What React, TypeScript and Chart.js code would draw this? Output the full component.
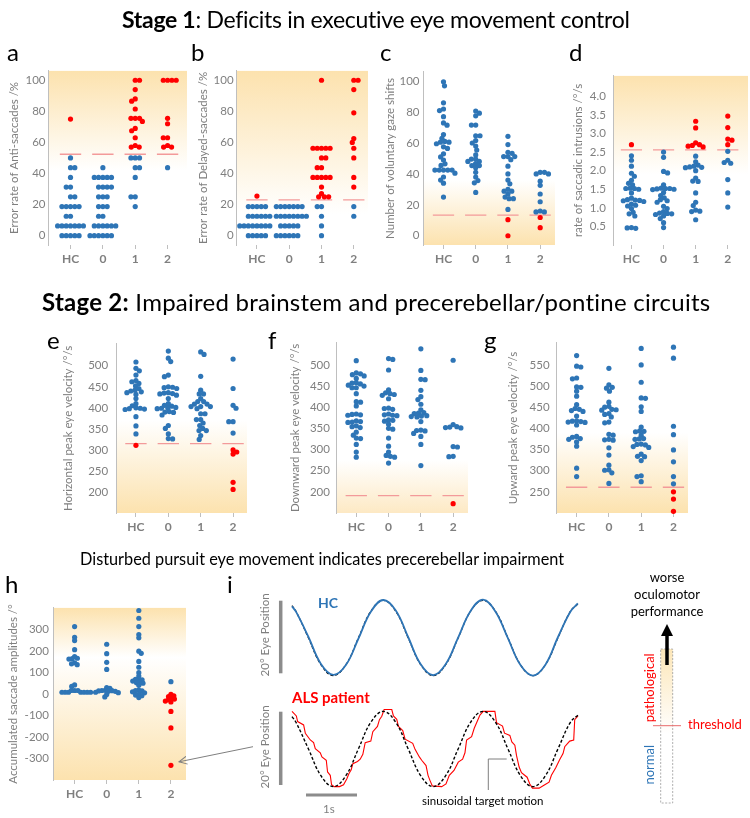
import React, { useEffect, useRef } from 'react';
import { Chart, registerables } from 'chart.js';
Chart.register(...registerables);

const FONT = "Lato, 'Open Sans', 'DejaVu Sans', sans-serif";
Chart.defaults.font.family = FONT;

// ---------- categories ----------
const groups = ['HC', '0', '1', '2'];

// ---------- a: anti-saccade error rate (%) ----------
const antiBlue = [
  [50, 43.75, 43.75, 37.5, 31.25, 31.25, 25, 25, 18.75, 18.75, 18.75, 18.75, 18.75, 12.5, 12.5, 6.25, 6.25, 6.25, 6.25, 6.25, 6.25, 6.25, 0, 0, 0, 0, 0],
  [43.75, 37.5, 37.5, 37.5, 37.5, 37.5, 31.25, 31.25, 31.25, 31.25, 25, 25, 25, 18.75, 18.75, 18.75, 12.5, 12.5, 6.25, 6.25, 6.25, 6.25, 6.25, 6.25, 0, 0, 0, 0, 0, 0],
  [50, 50, 50, 43.75, 43.75, 37.5, 25, 25, 18.75],
  [43.75],
];
const antiRed = [
  [75],
  [],
  [100, 100, 94, 88, 86.5, 81.5, 75.5, 75.5, 75.5, 73.5, 69, 67.5, 63, 58, 57, 57],
  [100, 100, 100, 100, 75.5, 72, 63, 63, 58, 57, 57],
];
const antiThreshold = 52.4;

// ---------- b: delayed-saccade error rate (%) ----------
const delayBlue = [
  [18.75, 18.75, 18.75, 18.75, 18.75, 12.5, 12.5, 12.5, 12.5, 12.5, 12.5, 6.25, 6.25, 6.25, 6.25, 6.25, 6.25, 6.25, 6.25, 0, 0, 0, 0, 0],
  [18.75, 18.75, 18.75, 18.75, 18.75, 18.75, 18.75, 12.5, 12.5, 12.5, 12.5, 12.5, 12.5, 12.5, 12.5, 6.25, 6.25, 6.25, 6.25, 6.25, 0, 0, 0, 0, 0, 0],
  [18.75, 18.75, 12.5, 6.25, 0],
  [18.75, 12.5],
];
const delayRed = [
  [25.5],
  [],
  [100, 56.25, 56.25, 56.25, 56.25, 56.25, 50, 50, 43.75, 43.75, 37.5, 37.5, 37.5, 37.5, 37.5, 31.25, 27, 25, 25, 25],
  [100, 100, 94, 79, 62.5, 60, 56.25, 50, 37.5, 31.25],
];
const delayThreshold = 23;

// ---------- c: number of voluntary gaze shifts ----------
const gazeBlue = [
  [99.6, 97, 86, 82, 81, 77, 73, 71.5, 65.5, 63, 61, 60.5, 60.5, 59.5, 57.5, 56.5, 53, 51, 49, 46.5, 45.5, 42.5, 42.5, 42.5, 42.5, 42.5, 40.5, 38, 36, 34, 25],
  [80.7, 79.3, 77.6, 71.6, 71.6, 64.7, 64.7, 61.6, 60, 58, 55.4, 52.3, 49.6, 49.6, 48.1, 48.1, 46.7, 45.4, 45.4, 44, 41, 38, 35.7, 34.2, 28],
  [64.3, 59, 54, 53.3, 51.2, 51.2, 51.2, 49.2, 45, 40, 36, 33.6, 30, 28.8, 28.8, 27, 25, 24, 24, 17],
  [41, 41, 40, 40, 35.3, 32.6, 27, 22, 16, 15.4, 15.4],
];
const gazeRed = [[], [], [10.4, 0], [11.8, 5.2]];
const gazeThreshold = 13.3;

// ---------- d: rate of saccadic intrusions (°/s) ----------
const intrBlue = [
  [2.4, 2.28, 2.12, 1.93, 1.85, 1.74, 1.66, 1.62, 1.53, 1.52, 1.52, 1.5, 1.4, 1.26, 1.22, 1.21, 1.2, 1.19, 1.17, 1.1, 1.07, 1.05, 0.98, 0.88, 0.84, 0.78, 0.47, 0.46, 0.45],
  [2.5, 2.36, 1.98, 1.94, 1.62, 1.53, 1.52, 1.52, 1.51, 1.5, 1.49, 1.41, 1.33, 1.27, 1.22, 1.19, 1.15, 1.04, 0.98, 0.9, 0.86, 0.85, 0.84, 0.82, 0.78, 0.71, 0.6, 0.47],
  [2.39, 2.24, 2.15, 2.12, 2.1, 2.09, 2.08, 2.0, 1.8, 1.72, 1.71, 1.4, 1.15, 1.06, 0.94, 0.91, 0.9, 0.68],
  [2.52, 2.28, 2.22, 2.2, 1.76, 1.4, 1.02],
];
const intrRed = [
  [2.7],
  [],
  [3.33, 3.15, 2.75, 2.7, 2.68, 2.66, 2.64],
  [3.47, 3.16, 2.85, 2.82, 2.7],
];
const intrThreshold = 2.56;

// ---------- e: horizontal peak eye velocity (°/s) ----------
const horBlue = [
  [509, 494, 488, 478, 465, 462, 458, 452, 446, 442, 440, 438, 436, 432, 422, 410, 405, 400, 399, 398, 397, 396, 379, 357, 338],
  [535, 518, 510, 478, 474, 450, 449, 448, 446, 436, 435, 434, 433, 430, 422, 410, 406, 404, 401, 400, 399, 398, 391, 390, 389, 383, 358, 351, 338, 327, 326],
  [533, 527, 475, 442, 433, 433, 422, 415, 415, 409, 409, 403, 403, 403, 398, 386, 386, 372, 372, 364, 358, 351, 346, 346, 334, 325],
  [516, 446, 406, 399, 367, 367, 340],
];
const horRed = [[311], [], [], [300, 295, 290, 223, 206]];
const horThreshold = 315;

// ---------- f: downward peak eye velocity (°/s) ----------
const downBlue = [
  [510, 481, 479, 477, 474, 468, 458, 457, 455, 452, 450, 446, 446, 432, 413, 412, 403, 384, 383, 382, 381, 368, 366, 365, 364, 356, 354, 352, 341, 334, 327, 326, 312, 294, 282],
  [515, 513, 488, 441, 434, 432, 430, 428, 420, 398, 397, 395, 384, 382, 381, 380, 370, 369, 367, 360, 350, 348, 327, 308, 294, 286, 284, 282, 268],
  [538, 487, 466, 465, 440, 425, 418, 407, 394, 387, 386, 385, 380, 379, 378, 377, 366, 346, 345, 344, 338, 331, 312, 262],
  [511, 359, 354, 353, 352, 351, 307, 306, 284, 283],
];
const downRed = [[], [], [], [172]];
const downThreshold = 191;

// ---------- g: upward peak eye velocity (°/s) ----------
const upBlue = [
  [572, 547, 545, 519, 517, 498, 497, 488, 476, 456, 447, 445, 442, 440, 429, 418, 417, 416, 415, 414, 408, 381, 379, 376, 374, 368, 358, 306, 286],
  [542, 503, 497, 495, 488, 462, 452, 450, 445, 444, 443, 435, 433, 427, 415, 413, 386, 384, 374, 373, 372, 354, 337, 313, 302, 301, 295, 270],
  [589, 550, 509, 472, 471, 451, 440, 403, 394, 393, 392, 384, 376, 375, 374, 363, 362, 361, 357, 355, 339, 334, 333, 324, 288, 286, 274],
  [592, 566, 405, 385, 349, 321, 286, 269],
];
const upRed = [[], [], [], [250, 233, 204]];
const upThreshold = 261;

// ---------- h: accumulated saccade amplitudes (°) ----------
const accBlue = [
  [313, 263, 248, 206, 174, 166, 164, 162, 145, 140, 136, 42, 35, 16, 16, 16, 8, 8, 8, 8, 8, 8, 8],
  [231, 187, 147, 114, 30, 26, 17, 16, 15, 14, 13, 12, 8, 6, -2, -14],
  [388, 352, 313, 276, 261, 199, 189, 151, 124, 99, 83, 68, 68, 66, 60, 54, 52, 50, 40, 18, 16, 14, 10, 5, -2, -5, -8, -17],
  [57],
];
const accRed = [[], [], [], [-2, -9, -12, -20, -24, -27, -33, -37, -81, -158, -332]];

// ---------- i: pursuit traces (time s, position °) ----------
const targetT = [0, 0.08, 0.33, 0.58, 0.83, 1.08, 1.33, 1.58, 1.83, 2.08, 2.33, 2.58, 2.83, 3.08, 3.33, 3.58, 3.83, 4.08, 4.33, 4.58, 4.83, 5.08, 5.33, 5.58, 5.73];
const targetPos = [8.6, 7.1, 0, -7.1, -10, -7.1, 0, 7.1, 10, 7.1, 0, -7.1, -10, -7.1, 0, 7.1, 10, 7.1, 0, -7.1, -10, -7.1, 0, 7.1, 9.0];
const hcEyeT = [0, 0.08, 0.33, 0.58, 0.83, 1.08, 1.33, 1.58, 1.83, 2.08, 2.33, 2.58, 2.83, 3.08, 3.33, 3.58, 3.83, 4.08, 4.33, 4.58, 4.83, 5.08, 5.33, 5.58, 5.73];
const hcEyePos = [8.4, 7.0, 0.3, -6.9, -9.8, -7.2, -0.2, 7.0, 10.1, 7.3, 0.2, -7.0, -9.9, -7.0, 0.1, 7.2, 10.2, 7.0, -0.1, -7.2, -10.0, -7.1, 0.2, 7.0, 9.2];
const alsEyeT = [0, 0.087, 0.113, 0.233, 0.267, 0.367, 0.433, 0.467, 0.567, 0.6, 0.687, 0.713, 0.767, 0.793, 0.847, 0.953, 1.033, 1.1, 1.14, 1.187, 1.22, 1.313, 1.367, 1.42, 1.467, 1.58, 1.62, 1.713, 1.753, 1.8, 1.847, 2.0, 2.033, 2.1, 2.133, 2.22, 2.267, 2.42, 2.467, 2.553, 2.6, 2.687, 2.727, 2.767, 2.813, 3.0, 3.087, 3.153, 3.247, 3.333, 3.42, 3.467, 3.5, 3.6, 3.653, 3.72, 3.767, 3.833, 4.067, 4.1, 4.22, 4.26, 4.367, 4.407, 4.467, 4.5, 4.553, 4.6, 4.713, 4.767, 4.82, 4.953, 5.067, 5.153, 5.2, 5.287, 5.367, 5.433, 5.467, 5.567, 5.647, 5.667, 5.733];
const alsEyePos = [10, 8.8, 7.3, 6.4, 4.2, 2.4, 1.7, 0.1, -1.0, -2.1, -3.0, -6.1, -7.0, -9.5, -10, -10, -9.5, -7.9, -6.6, -5.5, -3.9, -3.3, -2.7, -1.4, 1.7, 2.1, 4.6, 6.0, 7.8, 8.7, 10.5, 10.5, 8.8, 7.9, 6.0, 4.9, 2.6, 1.5, -0.1, -2.1, -3.0, -4.4, -7.0, -8.4, -9.8, -10, -9.3, -7.0, -5.7, -3.5, -2.7, -1.0, 2.4, 3.3, 5.5, 7.6, 9.0, 10, 10, 7.0, 6.1, 4.2, 3.6, 1.9, 1.0, -1.7, -4.8, -6.3, -7.5, -9.3, -10.4, -10.4, -9.5, -8.8, -7.0, -5.0, -2.8, -1.2, 0.6, 2.1, 2.4, 7.8, 8.8];

// ---------- styles ----------
const BLUE = '#2E75B6';
const RED = '#FF0000';
const THR = '#F39A9A';
const AXIS = '#BFBFBF';
const GRAY = '#7F7F7F';
const Y1 = '#FCE2AE';
const WHITE = '#FFFFFF';
const TITLE_HALF = 7.2;
const PAD_T = 4;
const PAD_R = 5;
const XH = 30;
const DOT_D = 4.3;

function swarmOffsets(vals: number[], pxPerUnit: number, d: number): number[] {
  const order = vals.map((_, i) => i).sort((a, b) => vals[b] - vals[a] || a - b);
  const placed: { x: number; y: number }[] = [];
  const res = new Array(vals.length).fill(0);
  let flip = 1;
  for (const i of order) {
    const y = vals[i] * pxPerUnit;
    const forb: [number, number][] = [];
    for (const p of placed) {
      const dy = Math.abs(p.y - y);
      if (dy < d) {
        const dx = Math.sqrt(d * d - dy * dy);
        forb.push([p.x - dx, p.x + dx]);
      }
    }
    const cands = [0];
    forb.forEach(([a, b]) => cands.push(a, b));
    const ok = (x: number) => forb.every(([a, b]) => x <= a + 1e-6 || x >= b - 1e-6);
    let best = Infinity;
    for (const c of cands) {
      if (!ok(c)) continue;
      const ac = Math.abs(c), ab = Math.abs(best);
      if (ac < ab - 1e-6 || (Math.abs(ac - ab) < 1e-6 && Math.sign(c) === flip)) best = c;
    }
    if (best !== 0) flip = -flip;
    placed.push({ x: best, y });
    res[i] = best;
  }
  return res;
}

type PanelCfg = {
  blue: number[][];
  red: number[][];
  threshold?: number;
  yMin: number; yMax: number; yTicks: number[]; decimals?: number;
  xMin: number; xMax: number;
  L: number; R: number; T: number; B: number;
  titleX: number; title: string; tickPad: number;
  grad: [number, string][];
  dotD?: number;
};

const bgPlugin = (stops: [number, string][]) => ({
  id: 'bgGrad',
  beforeDraw(chart: any) {
    const { ctx, chartArea: a, scales } = chart;
    const y = scales.y;
    const p0 = y.getPixelForValue(stops[0][0]);
    const p1 = y.getPixelForValue(stops[stops.length - 1][0]);
    const g = ctx.createLinearGradient(0, p0, 0, p1);
    stops.forEach(([v, c]) => {
      const f = (y.getPixelForValue(v) - p0) / (p1 - p0);
      g.addColorStop(Math.min(1, Math.max(0, f)), c);
    });
    ctx.save();
    ctx.fillStyle = g;
    ctx.fillRect(a.left, a.top, a.right - a.left, a.bottom - a.top);
    ctx.restore();
  },
});

function SwarmPanel({ cfg }: { cfg: PanelCfg }) {
  const ref = useRef<HTMLCanvasElement>(null);
  const cLeft = cfg.titleX - TITLE_HALF;
  const cTop = cfg.T - PAD_T;
  const W = Math.round(cfg.R - cLeft + PAD_R);
  const H = Math.round(cfg.B - cTop + XH);
  useEffect(() => {
    const pyu = (cfg.B - cfg.T) / (cfg.yMax - cfg.yMin);
    const pxc = (cfg.R - cfg.L) / (cfg.xMax - cfg.xMin);
    const bluePts: any[] = [];
    const redPts: any[] = [];
    cfg.blue.forEach((grp, g) => {
      const reds = cfg.red[g] || [];
      const all = [...grp, ...reds];
      const offs = swarmOffsets(all, pyu, cfg.dotD ?? DOT_D);
      all.forEach((v, i) => (i < grp.length ? bluePts : redPts).push({ x: g + offs[i] / pxc, y: v }));
    });
    const thr: any[] = [];
    if (cfg.threshold != null) {
      groups.forEach((_, g) => {
        thr.push({ x: g - 0.33, y: cfg.threshold }, { x: g + 0.33, y: cfg.threshold }, { x: g + 0.5, y: null });
      });
    }
    const chart = new Chart(ref.current as HTMLCanvasElement, {
      type: 'scatter',
      data: {
        datasets: [
          { data: thr, showLine: true, borderColor: THR, borderWidth: 1.4, pointRadius: 0, spanGaps: false, order: 3 },
          { data: bluePts, backgroundColor: BLUE, borderWidth: 0, pointRadius: 2.6, pointHoverRadius: 2.6, order: 2, clip: false },
          { data: redPts, backgroundColor: RED, borderWidth: 0, pointRadius: 2.6, pointHoverRadius: 2.6, order: 1, clip: false },
        ],
      } as any,
      options: {
        responsive: false,
        animation: false,
        events: [],
        layout: { padding: { left: 0, top: PAD_T, right: PAD_R, bottom: 0 } },
        plugins: { legend: { display: false }, tooltip: { enabled: false } },
        scales: {
          x: {
            type: 'linear', min: cfg.xMin, max: cfg.xMax,
            afterFit: (s: any) => { s.height = XH; },
            afterBuildTicks: (s: any) => { s.ticks = groups.map((_, i) => ({ value: i })); },
            grid: { display: true, drawOnChartArea: false, drawTicks: true, tickLength: 4, color: AXIS },
            border: { display: false },
            ticks: { callback: (v: any) => groups[v as number], color: GRAY, font: { size: 12, weight: 'bold' }, padding: 3, autoSkip: false, maxRotation: 0 },
          },
          y: {
            type: 'linear', min: cfg.yMin, max: cfg.yMax,
            afterFit: (s: any) => { s.width = cfg.L - cLeft; },
            afterBuildTicks: (s: any) => { s.ticks = cfg.yTicks.map((v) => ({ value: v })); },
            grid: { display: false, drawTicks: false },
            border: { display: true, color: AXIS, width: 1 },
            ticks: {
              callback: (v: any) => (cfg.decimals ? Number(v).toFixed(cfg.decimals) : String(v)),
              color: GRAY, font: { size: 11.5 }, padding: cfg.tickPad, autoSkip: false,
            },
            title: { display: true, text: cfg.title, color: GRAY, font: { size: 11.5, lineHeight: 1.25 }, padding: 0 },
          },
        },
      } as any,
      plugins: [bgPlugin(cfg.grad)],
    });
    return () => chart.destroy();
  }, []);
  return <canvas ref={ref} width={W} height={H} style={{ position: 'absolute', left: cLeft, top: cTop, width: W, height: H }} />;
}

const pct = [0, 20, 40, 60, 80, 100];
const panels: PanelCfg[] = [
  { blue: antiBlue, red: antiRed, threshold: antiThreshold, yMin: -6, yMax: 106, yTicks: pct, xMin: -0.68, xMax: 3.6, L: 48.3, R: 187, T: 65, B: 245, titleX: 14, title: 'Error rate of Anti-saccades /%', tickPad: 3, grad: [[106, Y1], [42, WHITE]] },
  { blue: delayBlue, red: delayRed, threshold: delayThreshold, yMin: -6, yMax: 106, yTicks: pct, xMin: -0.63, xMax: 3.44, L: 236.7, R: 368.3, T: 65, B: 245, titleX: 203.3, title: 'Error rate of Delayed-saccades /%', tickPad: 3, grad: [[106, Y1], [14, WHITE]] },
  { blue: gazeBlue, red: gazeRed, threshold: gazeThreshold, yMin: -6, yMax: 106, yTicks: pct, xMin: -0.62, xMax: 3.46, L: 423.3, R: 555, T: 65, B: 245, titleX: 390, title: 'Number of voluntary gaze shifts', tickPad: 4, grad: [[-6, Y1], [36, WHITE]] },
  { blue: intrBlue, red: intrRed, threshold: intrThreshold, yMin: 0, yMax: 4.55, yTicks: [0.5, 1, 1.5, 2, 2.5, 3, 3.5, 4], decimals: 1, xMin: -0.55, xMax: 3.63, L: 613.3, R: 747, T: 65, B: 245, titleX: 577.7, title: 'rate of saccadic intrusions /°/s', tickPad: 8, grad: [[4.55, Y1], [1.9, WHITE]] },
  { blue: horBlue, red: horRed, threshold: horThreshold, yMin: 150, yMax: 552, yTicks: [200, 250, 300, 350, 400, 450, 500], xMin: -0.61, xMax: 3.43, L: 116, R: 246.7, T: 333, B: 513, titleX: 68, title: 'Horizontal peak eye velocity /°/s', tickPad: 8, grad: [[150, Y1], [370, WHITE]] },
  { blue: downBlue, red: downRed, threshold: downThreshold, yMin: 150, yMax: 552, yTicks: [200, 250, 300, 350, 400, 450, 500], xMin: -0.6, xMax: 3.46, L: 336.7, R: 468, T: 333, B: 513, titleX: 295, title: 'Downward peak eye velocity /°/s', tickPad: 7, grad: [[150, '#FDE9C4'], [275, WHITE]] },
  { blue: upBlue, red: upRed, threshold: upThreshold, yMin: 200, yMax: 602, yTicks: [250, 300, 350, 400, 450, 500, 550], xMin: -0.62, xMax: 3.45, L: 556.7, R: 688.3, T: 333, B: 513, titleX: 513.3, title: 'Upward peak eye velocity /°/s', tickPad: 7, grad: [[200, Y1], [390, WHITE]] },
  { blue: accBlue, red: accRed, yMin: -400, yMax: 400, yTicks: [-300, -200, -100, 0, 100, 200, 300], xMin: -0.645, xMax: 3.47, L: 54, R: 186, T: 600, B: 780, titleX: 13.3, title: 'Accumulated saccade amplitudes /°', tickPad: 5, grad: [[400, Y1], [170, WHITE], [-400, Y1]], dotD: 3.3 },
];

function TraceChart({ left, top, width, height, datasets }: any) {
  const ref = useRef<HTMLCanvasElement>(null);
  useEffect(() => {
    const chart = new Chart(ref.current as HTMLCanvasElement, {
      type: 'scatter',
      data: { datasets },
      options: {
        responsive: false, animation: false, events: [],
        layout: { padding: { left: 5, right: 5, top: 2, bottom: 2 } },
        plugins: { legend: { display: false }, tooltip: { enabled: false } },
        scales: {
          x: { type: 'linear', display: false, min: 0, max: 5.733 },
          y: { type: 'linear', display: false, min: -10.9, max: 10.9 },
        },
      } as any,
    });
    return () => chart.destroy();
  }, []);
  return <canvas ref={ref} width={width} height={height} style={{ position: 'absolute', left, top, width, height }} />;
}

const pts = (t: number[], p: number[]) => t.map((x, i) => ({ x, y: p[i] }));

function Txt({ x, y, s, children, style }: any) {
  return <div style={{ position: 'absolute', left: x, top: y, fontSize: s, lineHeight: 1, whiteSpace: 'nowrap', ...style }}>{children}</div>;
}
function RTxt({ cx, cy, w, s, color, children }: any) {
  return (
    <div style={{ position: 'absolute', left: cx - w / 2, top: cy - s * 0.6, width: w, height: s * 1.2, lineHeight: `${s * 1.2}px`, fontSize: s, textAlign: 'center', color, transform: 'rotate(-90deg)', whiteSpace: 'nowrap' }}>{children}</div>
  );
}

export default function App() {
  const hcSets = [
    { data: pts(targetT, targetPos), showLine: true, borderColor: '#000', borderWidth: 1.2, borderDash: [3, 2], pointRadius: 0, tension: 0.4, order: 1, clip: false },
    { data: pts(hcEyeT, hcEyePos), showLine: true, borderColor: BLUE, borderWidth: 1.8, pointRadius: 0, tension: 0.4, order: 0, clip: false },
  ];
  const alsSets = [
    { data: pts(targetT, targetPos), showLine: true, borderColor: '#000', borderWidth: 1.4, borderDash: [3, 2], pointRadius: 0, tension: 0.4, order: 0, clip: false },
    { data: pts(alsEyeT, alsEyePos), showLine: true, borderColor: RED, borderWidth: 1.1, pointRadius: 0, tension: 0, order: 1, clip: false },
  ];
  return (
    <div style={{ position: 'absolute', left: 0, top: 0, width: 750, height: 818, background: '#fff', overflow: 'hidden', fontFamily: FONT, color: '#000' }}>
      {panels.map((p, i) => <SwarmPanel key={i} cfg={p} />)}
      <TraceChart left={287} top={595} width={296} height={86} datasets={hcSets} />
      <TraceChart left={287} top={706} width={296} height={86} datasets={alsSets} />

      <svg width={750} height={818} style={{ position: 'absolute', left: 0, top: 0, pointerEvents: 'none' }}>
        <defs>
          <marker id="ah" markerWidth="9" markerHeight="9" refX="8" refY="4.5" orient="auto" markerUnits="userSpaceOnUse">
            <path d="M0,0.5 L8,4.5 L0,8.5" fill="none" stroke="#7F7F7F" strokeWidth="1" />
          </marker>
          <linearGradient id="barGrad" x1="0" y1="0" x2="0" y2="1">
            <stop offset="0" stopColor="#FCE6B8" />
            <stop offset="0.55" stopColor="#FFFFFF" />
            <stop offset="1" stopColor="#FFFFFF" />
          </linearGradient>
        </defs>
        <line x1={280.7} y1={600.7} x2={280.7} y2={673.3} stroke="#8C8C8C" strokeWidth={3.5} />
        <line x1={280.7} y1={711.7} x2={280.7} y2={785} stroke="#8C8C8C" strokeWidth={3.5} />
        <line x1={306} y1={795} x2={357} y2={795} stroke="#8C8C8C" strokeWidth={3} />
        <polyline points="488.3,790 488.3,759 506.7,759" fill="none" stroke="#7F7F7F" strokeWidth={1} />
        <line x1={253} y1={746.7} x2={179} y2={761.8} stroke="#7F7F7F" strokeWidth={1} markerEnd="url(#ah)" />
        <rect x={660.7} y={649} width={12} height={154} fill="url(#barGrad)" stroke="#9A9A9A" strokeWidth={0.8} strokeDasharray="2,1.5" />
        <line x1={653} y1={725.7} x2={681} y2={725.7} stroke="#E86A6A" strokeWidth={1} />
        <line x1={667} y1={665} x2={667} y2={634} stroke="#000" strokeWidth={3.5} />
        <polygon points="661,636 673,636 667,624" fill="#000" />
      </svg>

      <Txt x={122} y={8} s={23} style={{ letterSpacing: '-0.3px' }}><b>Stage 1</b>: Deficits in executive eye movement control</Txt>
      <Txt x={42} y={290} s={24} style={{ letterSpacing: '0.25px' }}><b>Stage 2:</b> Impaired brainstem and precerebellar/pontine circuits</Txt>
      <Txt x={80} y={551} s={16.3}>Disturbed pursuit eye movement indicates precerebellar impairment</Txt>

      <Txt x={7} y={40} s={24}>a</Txt>
      <Txt x={191} y={40} s={24}>b</Txt>
      <Txt x={380} y={40} s={24}>c</Txt>
      <Txt x={569} y={40} s={24}>d</Txt>
      <Txt x={47} y={328} s={24}>e</Txt>
      <Txt x={268} y={328} s={24}>f</Txt>
      <Txt x={484} y={328} s={24}>g</Txt>
      <Txt x={5} y={572} s={24}>h</Txt>
      <Txt x={227} y={572} s={24}>i</Txt>

      <Txt x={318} y={596} s={14} style={{ color: BLUE, fontWeight: 'bold' }}>HC</Txt>
      <Txt x={292} y={690} s={15} style={{ color: RED, fontWeight: 'bold' }}>ALS patient</Txt>
      <RTxt cx={265} cy={635} w={100} s={11.5} color={GRAY}>20° Eye Position</RTxt>
      <RTxt cx={265} cy={747} w={100} s={11.5} color={GRAY}>20° Eye Position</RTxt>
      <Txt x={323} y={803} s={11.5} style={{ color: GRAY }}>1s</Txt>
      <Txt x={422} y={795} s={11.5}>sinusoidal target motion</Txt>

      <div style={{ position: 'absolute', left: 617, top: 569, width: 100, textAlign: 'center', fontSize: 13, lineHeight: '17px' }}>worse<br />oculomotor<br />performance</div>
      <Txt x={688} y={718} s={13} style={{ color: RED }}>threshold</Txt>
      <RTxt cx={650} cy={688} w={90} s={13} color={RED}>pathological</RTxt>
      <RTxt cx={650} cy={765} w={60} s={13} color={BLUE}>normal</RTxt>
    </div>
  );
}
